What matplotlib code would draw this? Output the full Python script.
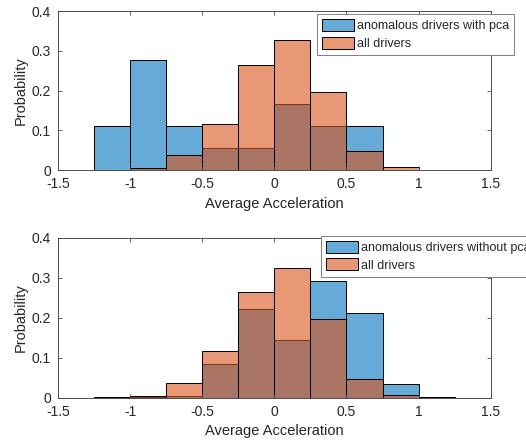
"""
Two probability histograms of average acceleration, MATLAB look
"""

import matplotlib
matplotlib.use('Agg')
import matplotlib.pyplot as plt
import numpy as np
from matplotlib.patches import Patch

plt.rcParams['font.family'] = ['Liberation Sans', 'DejaVu Sans']
plt.rcParams['axes.unicode_minus'] = False

bin_edges = [-1.25, -1.0, -0.75, -0.5, -0.25, 0.0, 0.25, 0.5, 0.75, 1.0, 1.25]

# top panel
pca_anomalous = [0.111, 0.278, 0.111, 0.056, 0.056, 0.167, 0.111, 0.111, 0.0, 0.0]
all_drivers_top = [0.0, 0.005, 0.038, 0.117, 0.265, 0.327, 0.197, 0.048, 0.008, 0.001]

# bottom panel
nopca_anomalous = [0.002, 0.003, 0.005, 0.084, 0.223, 0.145, 0.293, 0.211, 0.035, 0.003]
all_drivers_bottom = [0.0, 0.005, 0.037, 0.117, 0.265, 0.325, 0.197, 0.048, 0.008, 0.001]

legend_top = ['anomalous drivers with pca', 'all drivers']
legend_bottom = ['anomalous drivers without pca', 'all drivers']

xticks = [-1.5, -1, -0.5, 0, 0.5, 1, 1.5]
xticklabels = ['-1.5', '-1', '-0.5', '0', '0.5', '1', '1.5']
yticks = [0, 0.1, 0.2, 0.3, 0.4]
yticklabels = ['0', '0.1', '0.2', '0.3', '0.4']

blue = (0.0, 0.447, 0.741, 0.6)
orange = (0.85, 0.325, 0.098, 0.6)
axcol = '#4d4d4d'
txtcol = '#262626'

fig = plt.figure(figsize=(5.26, 4.43), dpi=100)
ax1 = fig.add_axes([0.110, 0.616, 0.823, 0.359])
ax2 = fig.add_axes([0.110, 0.102, 0.823, 0.361])

panels = [(ax1, pca_anomalous, all_drivers_top, legend_top, (0.602, 0.968)),
          (ax2, nopca_anomalous, all_drivers_bottom, legend_bottom, (0.610, 0.468))]

left = np.array(bin_edges[:-1])
width = np.diff(bin_edges)

for ax, anom, alld, labels, anchor in panels:
    ax.bar(left, anom, width=width, align='edge', facecolor=blue,
           edgecolor='black', linewidth=0.7)
    ax.bar(left, alld, width=width, align='edge', facecolor=orange,
           edgecolor='black', linewidth=0.7)
    ax.set_xlim(-1.5, 1.5)
    ax.set_ylim(0, 0.4)
    ax.set_xticks(xticks)
    ax.set_xticklabels(xticklabels)
    ax.set_yticks(yticks)
    ax.set_yticklabels(yticklabels)
    ax.tick_params(direction='in', top=True, right=True, length=3,
                   width=0.6, color=axcol, labelcolor=txtcol, labelsize=10)
    ax.tick_params(axis='x', pad=5)
    ax.tick_params(axis='y', pad=5)
    for s in ax.spines.values():
        s.set_color(axcol)
        s.set_linewidth(0.7)
    ax.set_xlabel('Average Acceleration', fontsize=10.5, color=txtcol, labelpad=4)
    ax.set_ylabel('Probability', fontsize=10.5, color=txtcol, labelpad=3)

    handles = [Patch(facecolor=blue, edgecolor='black', linewidth=0.7),
               Patch(facecolor=orange, edgecolor='black', linewidth=0.7)]
    leg = fig.legend(handles, labels, loc='upper left', bbox_to_anchor=anchor,
                     bbox_transform=fig.transFigure, fontsize=9,
                     fancybox=False, framealpha=1, edgecolor='#808080',
                     borderpad=0.4, labelspacing=0.35, handlelength=2.6,
                     handleheight=1.1, handletextpad=0.2, borderaxespad=0)
    leg.get_frame().set_linewidth(0.7)
    for t in leg.get_texts():
        t.set_color(txtcol)

fig.savefig('out.png', dpi=100)
